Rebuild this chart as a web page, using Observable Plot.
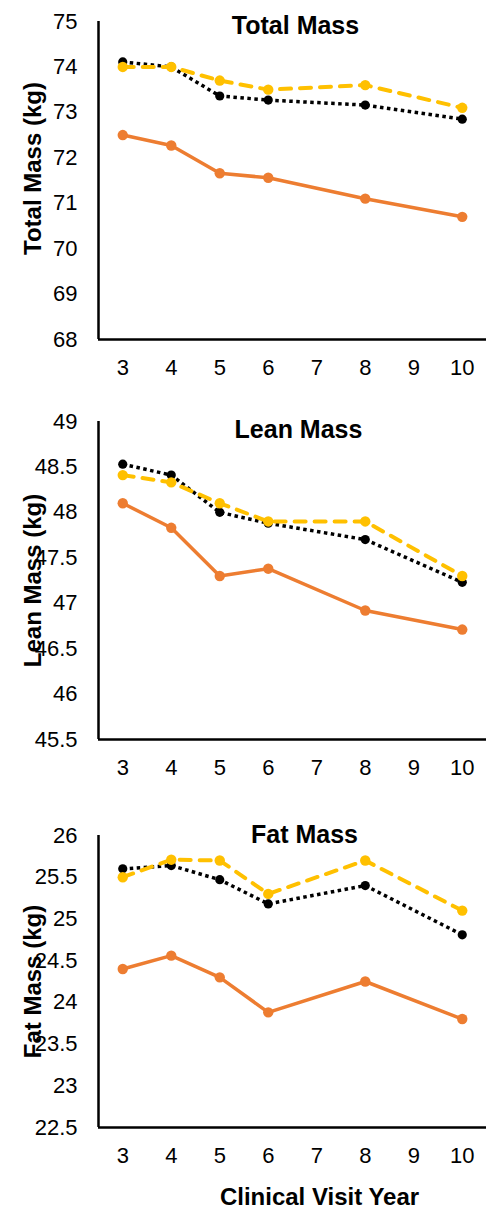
<!DOCTYPE html>
<html>
<head>
<meta charset="utf-8">
<script src="https://cdn.jsdelivr.net/npm/d3@7"></script>
<script src="https://cdn.jsdelivr.net/npm/@observablehq/plot@0.6"></script>
<style>
  html, body { margin: 0; padding: 0; background: #fff; }
  #wrap { position: relative; width: 486px; height: 1209px; overflow: hidden; }
  #wrap > svg { position: absolute; left: 0; }
</style>
</head>
<body>
<div id="wrap"></div>
<script>
// ---- data ----
const years = [3, 4, 5, 6, 8, 10];
const xTicks = [3, 4, 5, 6, 7, 8, 9, 10];

const totalOrange = [72.5, 72.27, 71.66, 71.56, 71.1, 70.7];
const totalBlack  = [74.11, 74.0, 73.36, 73.27, 73.16, 72.85];
const totalYellow = [74.0, 74.0, 73.7, 73.5, 73.6, 73.1];
const totalTicks  = [68, 69, 70, 71, 72, 73, 74, 75];

const leanOrange = [48.1, 47.83, 47.3, 47.38, 46.92, 46.71];
const leanBlack  = [48.53, 48.41, 48.0, 47.88, 47.7, 47.23];
const leanYellow = [48.41, 48.33, 48.1, 47.9, 47.9, 47.3];
const leanTicks  = [45.5, 46, 46.5, 47, 47.5, 48, 48.5, 49];

const fatOrange = [24.4, 24.56, 24.3, 23.88, 24.25, 23.8];
const fatBlack  = [25.6, 25.64, 25.47, 25.18, 25.4, 24.81];
const fatYellow = [25.5, 25.71, 25.7, 25.3, 25.7, 25.1];
const fatTicks  = [22.5, 23, 23.5, 24, 24.5, 25, 25.5, 26];

const titles = ["Total Mass", "Lean Mass", "Fat Mass"];
const yLabels = ["Total Mass (kg)", "Lean Mass (kg)", "Fat Mass (kg)"];
const xLabel = "Clinical Visit Year";

// ---- layout / style ----
const ORANGE = "#ED7D31", YELLOW = "#FFC000", BLACK = "#000000";
const FONT = "'Liberation Sans', Arial, sans-serif";

const panels = [
  {title: titles[0], yLabel: yLabels[0], orange: totalOrange, black: totalBlack, yellow: totalYellow, ticks: totalTicks,
   top: 0, height: 390, mt: 21, mb: 51, titleDx: 3, titleDy: 4, yLabelDy: -12, xLabel: null},
  {title: titles[1], yLabel: yLabels[1], orange: leanOrange, black: leanBlack, yellow: leanYellow, ticks: leanTicks,
   top: 400, height: 390, mt: 21, mb: 51, titleDx: 6, titleDy: 8, yLabelDy: 0, xLabel: null},
  {title: titles[2], yLabel: yLabels[2], orange: fatOrange, black: fatBlack, yellow: fatYellow, ticks: fatTicks,
   top: 800, height: 409, mt: 35, mb: 82, titleDx: 12, titleDy: -1, yLabelDy: 0, xLabel: xLabel}
];

const wrap = document.getElementById("wrap");

for (const p of panels) {
  const rows = (vals) => years.map((yr, i) => ({year: yr, value: vals[i]}));
  const o = rows(p.orange), b = rows(p.black), y = rows(p.yellow);
  const ymin = d3.min(p.ticks), ymax = d3.max(p.ticks);

  const marks = [
    // tick labels (drawn through the scales)
    Plot.text(xTicks, {x: d => d, frameAnchor: "bottom", dy: 28, lineAnchor: "middle", textAnchor: "middle",
      text: d => String(d), fontSize: 22, fill: "#000"}),
    Plot.text(p.ticks, {y: d => d, frameAnchor: "left", dx: -21, lineAnchor: "middle", textAnchor: "end",
      text: d => String(d), fontSize: 22, fill: "#000"}),
    Plot.ruleX([2.5], {y1: ymin, y2: ymax, stroke: "#000", strokeWidth: 2.5}),
    Plot.ruleY([ymin], {x1: 2.5, x2: 10.5, stroke: "#000", strokeWidth: 2.5}),
    Plot.line(o, {x: "year", y: "value", stroke: ORANGE, strokeWidth: 3.5, strokeLinejoin: "round"}),
    Plot.dot(o, {x: "year", y: "value", r: 5.2, fill: ORANGE, stroke: "none"}),
    Plot.line(b, {x: "year", y: "value", stroke: BLACK, strokeWidth: 3.5, strokeDasharray: "3.5,3.5", strokeLinecap: "butt"}),
    Plot.dot(b, {x: "year", y: "value", r: 4.6, fill: BLACK, stroke: "none"}),
    Plot.line(y, {x: "year", y: "value", stroke: YELLOW, strokeWidth: 4, strokeDasharray: "11,9", strokeLinecap: "round"}),
    Plot.dot(y, {x: "year", y: "value", r: 5.2, fill: YELLOW, stroke: "none"}),
    Plot.text([p.title], {frameAnchor: "top", dx: p.titleDx, dy: p.titleDy, lineAnchor: "middle", textAnchor: "middle",
      fontSize: 25, fontWeight: "bold", fill: "#000"}),
    Plot.text([p.yLabel], {frameAnchor: "left", rotate: -90, dx: -65, dy: p.yLabelDy, lineAnchor: "middle", textAnchor: "middle",
      fontSize: 24, fontWeight: "bold", fill: "#000"})
  ];
  if (p.xLabel) {
    marks.push(Plot.text([p.xLabel], {frameAnchor: "bottom", dx: 27, dy: 70, lineAnchor: "middle", textAnchor: "middle",
      fontSize: 24, fontWeight: "bold", fill: "#000"}));
  }

  const svg = Plot.plot({
    width: 486,
    height: p.height,
    marginTop: p.mt,
    marginBottom: p.mb,
    marginLeft: 98,
    marginRight: 0,
    style: {fontFamily: FONT, fontSize: "22px", background: "transparent", overflow: "visible"},
    x: {domain: [2.5, 10.5], type: "linear", axis: null},
    y: {domain: [ymin, ymax], type: "linear", axis: null},
    marks
  });
  svg.style.top = p.top + "px";
  wrap.appendChild(svg);
}
</script>
</body>
</html>
